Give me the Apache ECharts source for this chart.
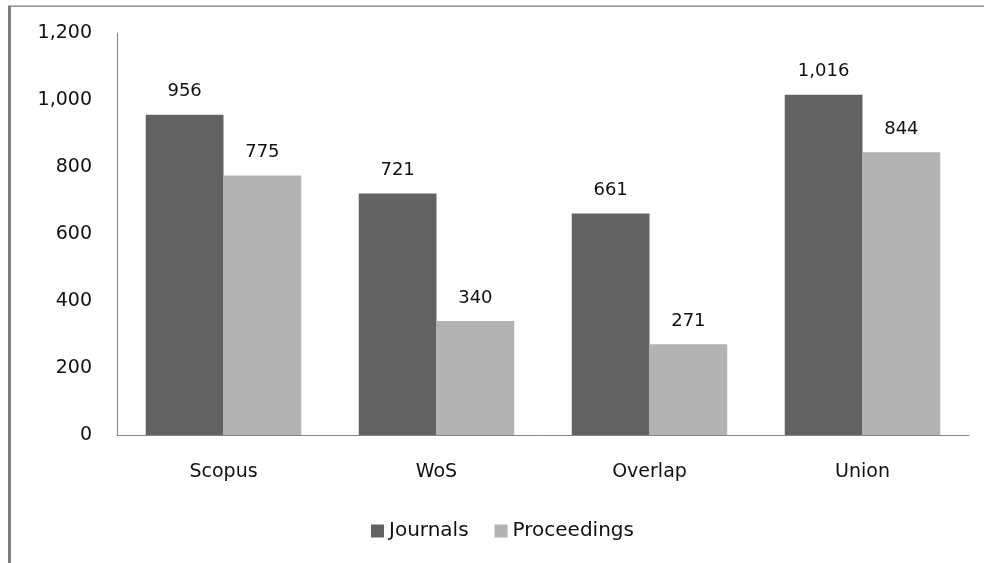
<!DOCTYPE html>
<html>
<head>
<meta charset="utf-8">
<script src="https://cdn.jsdelivr.net/npm/echarts@6/dist/echarts.min.js"></script>
<style>
html,body{margin:0;padding:0;background:#fff;}
#chart{width:984px;height:563px;}
</style>
</head>
<body>
<div id="chart"></div>
<script>
var categories = ['Scopus', 'WoS', 'Overlap', 'Union'];
var journals = [956, 721, 661, 1016];
var proceedings = [775, 340, 271, 844];
var yTicks = [0, 200, 400, 600, 800, 1000, 1200];

var FONT = 'DejaVu Sans';
function fmt(v) { return v.toLocaleString('en-US'); }

var chart = echarts.init(document.getElementById('chart'));
chart.setOption({
  backgroundColor: '#ffffff',
  animation: false,
  textStyle: { fontFamily: FONT },
  graphic: [
    { type: 'rect', shape: { x: 8, y: 6, width: 3, height: 560 }, style: { fill: '#808080' }, silent: true },
    { type: 'rect', shape: { x: 8, y: 5.5, width: 980, height: 1.2 }, style: { fill: '#808080' }, silent: true }
  ],
  legend: {
    bottom: 17,
    left: 366,
    itemWidth: 13,
    itemHeight: 13,
    itemGap: 26,
    icon: 'rect',
    textStyle: { fontFamily: FONT, fontSize: 20, color: '#111' },
    data: ['Journals', 'Proceedings']
  },
  grid: { left: 117, right: 15, top: 33, bottom: 128 },
  xAxis: {
    type: 'category',
    data: categories,
    axisLine: { lineStyle: { color: '#868686', width: 1 } },
    axisTick: { show: false },
    axisLabel: { fontFamily: FONT, fontSize: 19, color: '#111', margin: 28 }
  },
  yAxis: {
    type: 'value',
    min: yTicks[0],
    max: yTicks[yTicks.length - 1],
    interval: yTicks[1] - yTicks[0],
    axisLine: { show: true, lineStyle: { color: '#868686', width: 1 } },
    axisTick: { show: false },
    splitLine: { show: false },
    axisLabel: { fontFamily: FONT, fontSize: 19, color: '#111', margin: 25, formatter: function (v) { return fmt(v); } }
  },
  series: [
    {
      name: 'Journals', type: 'bar', data: journals,
      barGap: '0%', barCategoryGap: '27%',
      itemStyle: { color: '#626262' },
      label: { show: true, position: 'top', distance: 14, fontFamily: FONT, fontSize: 18, color: '#111', formatter: function (p) { return fmt(p.value); } }
    },
    {
      name: 'Proceedings', type: 'bar', data: proceedings,
      barGap: '0%', barCategoryGap: '27%',
      itemStyle: { color: '#b3b3b3' },
      label: { show: true, position: 'top', distance: 14, fontFamily: FONT, fontSize: 18, color: '#111', formatter: function (p) { return fmt(p.value); } }
    }
  ]
});
</script>
</body>
</html>
